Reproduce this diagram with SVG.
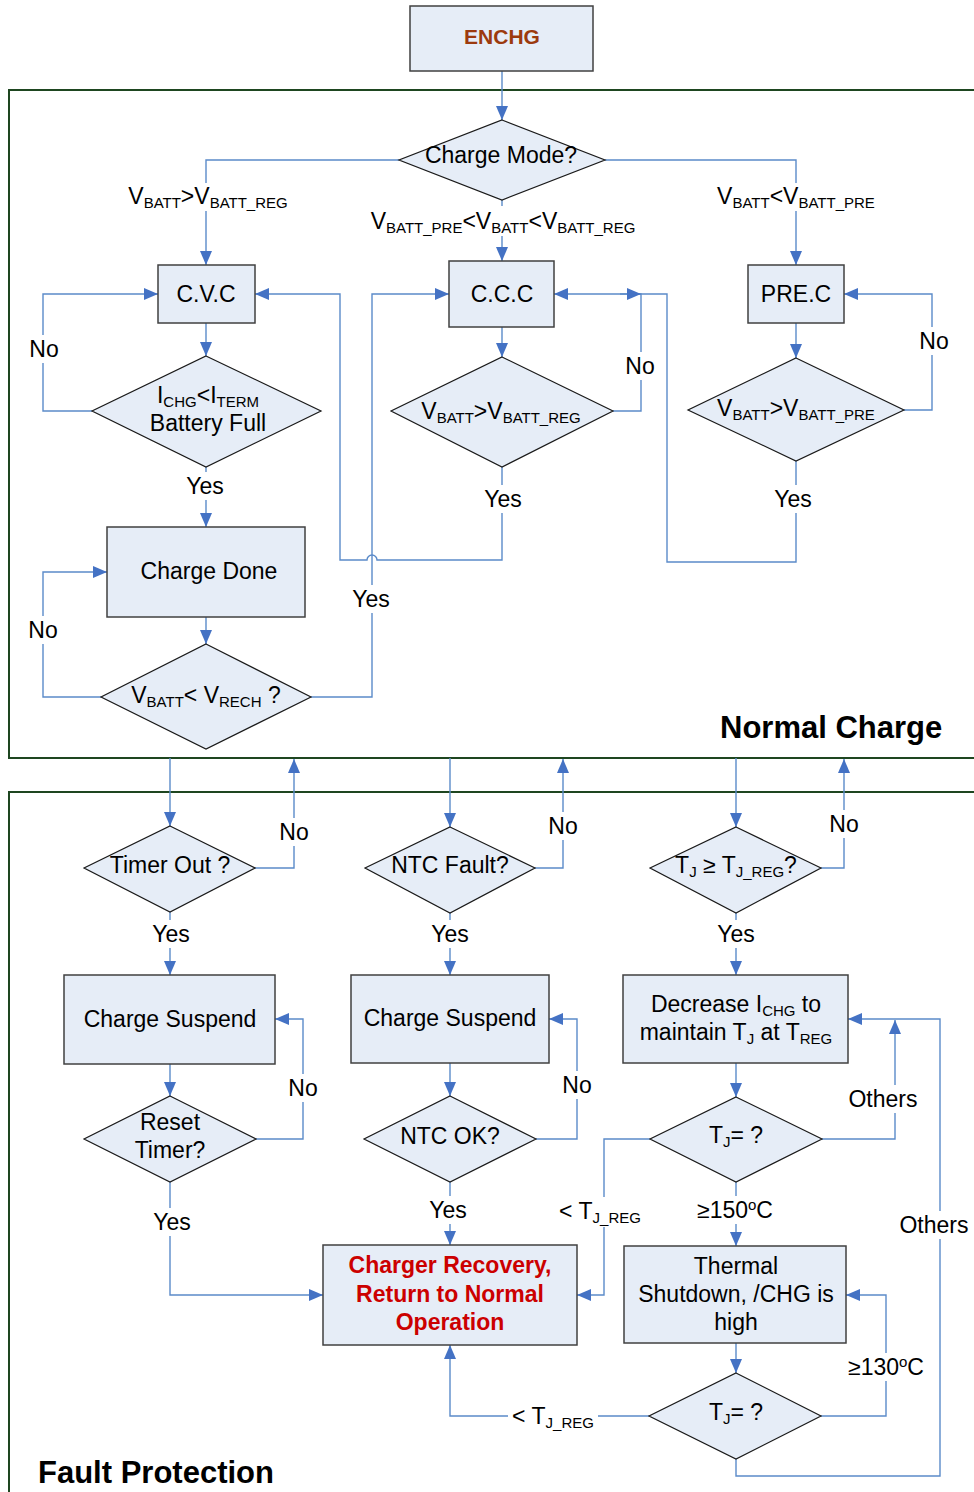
<svg xmlns="http://www.w3.org/2000/svg" width="974" height="1492" viewBox="0 0 974 1492">
<defs>
<style>
.box{fill:#E6EDF7;stroke:#404040;stroke-width:1.5}
.dia{fill:#E6EDF7;stroke:#1a1a1a;stroke-width:1.2}
.c{fill:none;stroke:#5B8BC9;stroke-width:1.4;marker-end:url(#ah)}
.n{fill:none;stroke:#5B8BC9;stroke-width:1.4}
.frame{fill:none;stroke:#1E4620;stroke-width:2}
.t{font-family:"Liberation Sans",Arial,sans-serif;font-size:23px;fill:#000;text-anchor:middle}
.s{font-size:15px}
.b{font-weight:bold}
.bg{fill:#fff}
</style>
<marker id="ah" viewBox="0 0 14 12" refX="14" refY="6" markerWidth="14" markerHeight="12" markerUnits="userSpaceOnUse" orient="auto">
<path d="M0,0 L14,6 L0,12 z" fill="#4472C4"/>
</marker>
</defs>
<rect width="974" height="1492" fill="#fff"/>
<g id="frames">
<rect class="frame" x="9" y="90" width="1000" height="668"/>
<rect class="frame" x="9" y="792" width="1000" height="750"/>
<text class="t b" x="720" y="738" style="text-anchor:start;font-size:31px">Normal Charge</text>
<text class="t b" x="38" y="1483" style="text-anchor:start;font-size:31px">Fault Protection</text>
</g>
<g id="connectors">
<path class="c" d="M502,71 V120"/>
<path class="c" d="M399,160 H206 V265"/>
<path class="c" d="M605,160 H796 V265"/>
<path class="c" d="M502,200 V261"/>
<path class="c" d="M206,323 V356"/>
<path class="c" d="M92,411 H43 V294 H158"/>
<path class="c" d="M206,467 V527"/>
<path class="c" d="M502,327 V357"/>
<path class="c" d="M613,411 H641 V294 H554"/>
<path class="c" d="M502,467 V560 H377 A5,5 0 0 0 367,560 H340 V294 H255"/>
<path class="c" d="M796,323 V358"/>
<path class="c" d="M904,410 H932 V294 H844"/>
<path class="n" d="M796,461 V562 H667 V294 H641"/>
<path class="c" d="M620,294 H641"/>
<path class="c" d="M206,617 V644"/>
<path class="c" d="M101,697 H43 V572 H107"/>
<path class="c" d="M311,697 H372 V294 H449"/>
<path class="c" d="M170,758 V826"/>
<path class="c" d="M255,868 H294 V759"/>
<path class="c" d="M450,758 V827"/>
<path class="c" d="M535,868 H563 V759"/>
<path class="c" d="M736,758 V827"/>
<path class="c" d="M821,868 H844 V759"/>
<path class="c" d="M170,912 V975"/>
<path class="c" d="M450,913 V975"/>
<path class="c" d="M736,913 V975"/>
<path class="c" d="M170,1064 V1096"/>
<path class="c" d="M256,1139 H303 V1019 H275"/>
<path class="c" d="M450,1063 V1096"/>
<path class="c" d="M536,1139 H577 V1019 H549"/>
<path class="c" d="M170,1182 V1295 H323"/>
<path class="c" d="M450,1182 V1245"/>
<path class="c" d="M736,1063 V1097"/>
<path class="c" d="M822,1139 H895 V1020"/>
<path class="c" d="M650,1139 H604 V1295 H577"/>
<path class="c" d="M736,1182 V1246"/>
<path class="c" d="M736,1343 V1373"/>
<path class="c" d="M821,1416 H886 V1295 H846"/>
<path class="c" d="M649,1416 H450 V1345"/>
<path class="c" d="M736,1459 V1476 H940 V1019 H848"/>
</g>
<g id="n-enchg"><rect class="box" x="410" y="6" width="183" height="65"/><text class="t b" x="502" y="44" style="font-size:21px;fill:#9C3A0E">ENCHG</text></g>
<g id="n-mode"><polygon class="dia" points="502,120 605,160 502,200 399,160"/><text class="t" x="501" y="163">Charge Mode?</text></g>
<g id="n-cvc"><rect class="box" x="158" y="265" width="97" height="58"/><text class="t" x="206" y="302">C.V.C</text></g>
<g id="n-ccc"><rect class="box" x="449" y="261" width="105" height="66"/><text class="t" x="502" y="302">C.C.C</text></g>
<g id="n-prec"><rect class="box" x="748" y="265" width="96" height="58"/><text class="t" x="796" y="302">PRE.C</text></g>
<g id="n-full"><polygon class="dia" points="206,356 321,411 206,467 92,411"/><text class="t" x="208" y="403">I<tspan class="s" dy="4">CHG</tspan><tspan dy="-4">&lt;I</tspan><tspan class="s" dy="4">TERM</tspan></text><text class="t" x="208" y="431">Battery Full</text></g>
<g id="n-vreg"><polygon class="dia" points="502,357 613,411 502,467 391,411"/><text class="t" x="501" y="419">V<tspan class="s" dy="4">BATT</tspan><tspan dy="-4">&gt;V</tspan><tspan class="s" dy="4">BATT_REG</tspan></text></g>
<g id="n-vpre"><polygon class="dia" points="796,358 904,410 796,461 688,410"/><text class="t" x="796" y="416">V<tspan class="s" dy="4">BATT</tspan><tspan dy="-4">&gt;V</tspan><tspan class="s" dy="4">BATT_PRE</tspan></text></g>
<g id="n-done"><rect class="box" x="107" y="527" width="198" height="90"/><text class="t" x="209" y="579">Charge Done</text></g>
<g id="n-rech"><polygon class="dia" points="206,644 311,697 206,749 101,697"/><text class="t" x="206" y="703">V<tspan class="s" dy="4">BATT</tspan><tspan dy="-4">&lt; V</tspan><tspan class="s" dy="4">RECH</tspan><tspan dy="-4"> ?</tspan></text></g>
<g id="n-timer"><polygon class="dia" points="170,826 255,868 170,912 84,868"/><text class="t" x="170" y="873">Timer Out ?</text></g>
<g id="n-ntcf"><polygon class="dia" points="450,827 535,868 450,913 365,868"/><text class="t" x="450" y="873">NTC Fault?</text></g>
<g id="n-tjreg"><polygon class="dia" points="736,827 821,868 736,913 650,868"/><text class="t" x="736" y="873">T<tspan class="s" dy="4">J</tspan><tspan dy="-4"> ≥ T</tspan><tspan class="s" dy="4">J_REG</tspan><tspan dy="-4">?</tspan></text></g>
<g id="n-cs1"><rect class="box" x="64" y="975" width="211" height="89"/><text class="t" x="170" y="1027">Charge Suspend</text></g>
<g id="n-cs2"><rect class="box" x="351" y="975" width="198" height="88"/><text class="t" x="450" y="1026">Charge Suspend</text></g>
<g id="n-dec"><rect class="box" x="623" y="975" width="225" height="88"/><text class="t" x="736" y="1012">Decrease I<tspan class="s" dy="4">CHG</tspan><tspan dy="-4"> to</tspan></text><text class="t" x="736" y="1040">maintain T<tspan class="s" dy="4">J</tspan><tspan dy="-4"> at T</tspan><tspan class="s" dy="4">REG</tspan></text></g>
<g id="n-reset"><polygon class="dia" points="170,1096 256,1139 170,1182 84,1139"/><text class="t" x="170" y="1130">Reset</text><text class="t" x="170" y="1158">Timer?</text></g>
<g id="n-ntcok"><polygon class="dia" points="450,1096 536,1139 450,1182 364,1139"/><text class="t" x="450" y="1144">NTC OK?</text></g>
<g id="n-tj1"><polygon class="dia" points="736,1097 822,1139 736,1182 650,1139"/><text class="t" x="736" y="1143">T<tspan class="s" dy="4">J</tspan><tspan dy="-4">= ?</tspan></text></g>
<g id="n-recov"><rect class="box" x="323" y="1245" width="254" height="100"/><text class="t b" x="450" y="1273" style="fill:#CC0000">Charger Recovery,</text><text class="t b" x="450" y="1302" style="fill:#CC0000">Return to Normal</text><text class="t b" x="450" y="1330" style="fill:#CC0000">Operation</text></g>
<g id="n-therm"><rect class="box" x="624" y="1246" width="222" height="97"/><text class="t" x="736" y="1274">Thermal</text><text class="t" x="736" y="1302">Shutdown, /CHG is</text><text class="t" x="736" y="1330">high</text></g>
<g id="n-tj2"><polygon class="dia" points="736,1373 821,1416 736,1459 649,1416"/><text class="t" x="736" y="1420">T<tspan class="s" dy="4">J</tspan><tspan dy="-4">= ?</tspan></text></g>
<g id="labels">
<rect class="bg" x="120" y="183" width="176" height="28"/>
<text class="t" x="208" y="204">V<tspan class="s" dy="4">BATT</tspan><tspan dy="-4">&gt;V</tspan><tspan class="s" dy="4">BATT_REG</tspan></text>
<rect class="bg" x="362" y="206" width="284" height="30"/>
<text class="t" x="503" y="229">V<tspan class="s" dy="4">BATT_PRE</tspan><tspan dy="-4">&lt;V</tspan><tspan class="s" dy="4">BATT</tspan><tspan dy="-4">&lt;V</tspan><tspan class="s" dy="4">BATT_REG</tspan></text>
<rect class="bg" x="710" y="183" width="172" height="28"/>
<text class="t" x="796" y="204">V<tspan class="s" dy="4">BATT</tspan><tspan dy="-4">&lt;V</tspan><tspan class="s" dy="4">BATT_PRE</tspan></text>
<rect class="bg" x="24" y="335" width="40" height="28"/><text class="t" x="44" y="357">No</text>
<rect class="bg" x="184" y="472" width="42" height="28"/><text class="t" x="205" y="494">Yes</text>
<rect class="bg" x="620" y="352" width="40" height="28"/><text class="t" x="640" y="374">No</text>
<rect class="bg" x="482" y="485" width="42" height="28"/><text class="t" x="503" y="507">Yes</text>
<rect class="bg" x="914" y="327" width="40" height="28"/><text class="t" x="934" y="349">No</text>
<rect class="bg" x="772" y="485" width="42" height="28"/><text class="t" x="793" y="507">Yes</text>
<rect class="bg" x="23" y="616" width="40" height="28"/><text class="t" x="43" y="638">No</text>
<rect class="bg" x="350" y="585" width="42" height="28"/><text class="t" x="371" y="607">Yes</text>
<rect class="bg" x="274" y="818" width="40" height="28"/><text class="t" x="294" y="840">No</text>
<rect class="bg" x="543" y="812" width="40" height="28"/><text class="t" x="563" y="834">No</text>
<rect class="bg" x="824" y="810" width="40" height="28"/><text class="t" x="844" y="832">No</text>
<rect class="bg" x="150" y="920" width="42" height="28"/><text class="t" x="171" y="942">Yes</text>
<rect class="bg" x="429" y="920" width="42" height="28"/><text class="t" x="450" y="942">Yes</text>
<rect class="bg" x="715" y="920" width="42" height="28"/><text class="t" x="736" y="942">Yes</text>
<rect class="bg" x="283" y="1074" width="40" height="28"/><text class="t" x="303" y="1096">No</text>
<rect class="bg" x="557" y="1071" width="40" height="28"/><text class="t" x="577" y="1093">No</text>
<rect class="bg" x="846" y="1085" width="74" height="28"/><text class="t" x="883" y="1107">Others</text>
<rect class="bg" x="897" y="1211" width="74" height="28"/><text class="t" x="934" y="1233">Others</text>
<rect class="bg" x="151" y="1208" width="42" height="28"/><text class="t" x="172" y="1230">Yes</text>
<rect class="bg" x="427" y="1196" width="42" height="28"/><text class="t" x="448" y="1218">Yes</text>
<rect class="bg" x="556" y="1197" width="90" height="30"/>
<text class="t" x="600" y="1219">&lt; T<tspan class="s" dy="4">J_REG</tspan></text>
<rect class="bg" x="694" y="1196" width="82" height="28"/>
<text class="t" x="735" y="1218">≥150<tspan class="s" dy="-8">o</tspan><tspan dy="8">C</tspan></text>
<rect class="bg" x="845" y="1353" width="82" height="28"/>
<text class="t" x="886" y="1375">≥130<tspan class="s" dy="-8">o</tspan><tspan dy="8">C</tspan></text>
<rect class="bg" x="508" y="1402" width="90" height="30"/>
<text class="t" x="553" y="1424">&lt; T<tspan class="s" dy="4">J_REG</tspan></text>
</g>
</svg>
